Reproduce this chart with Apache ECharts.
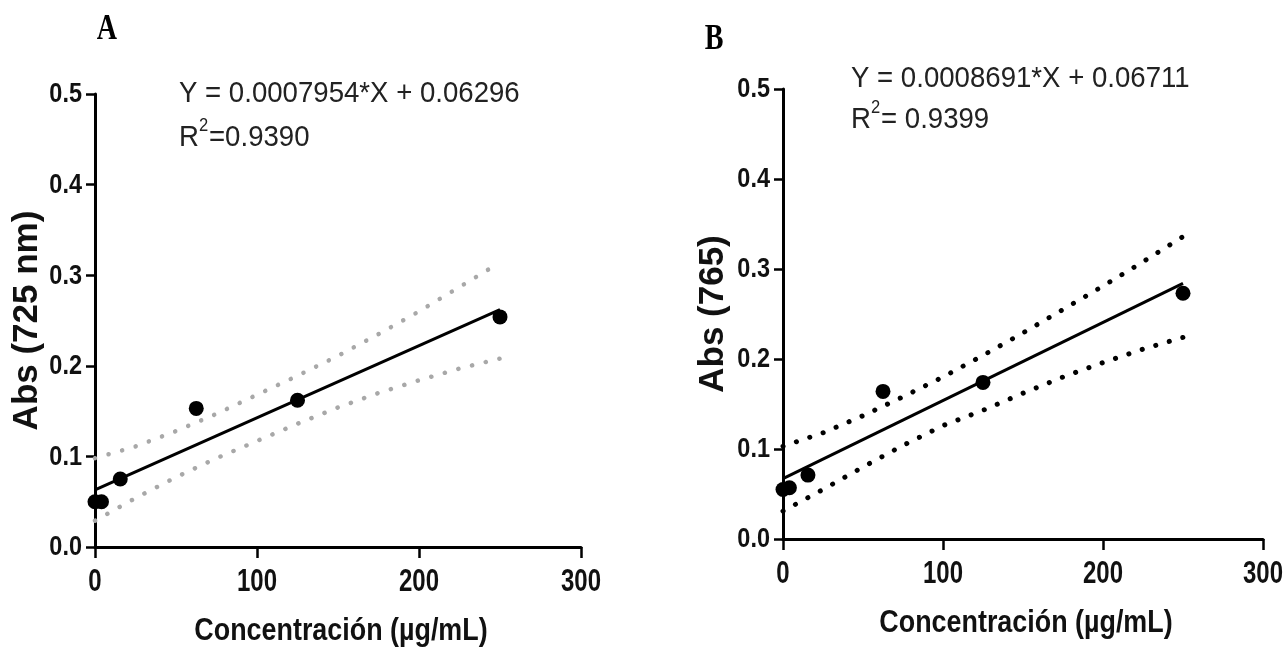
<!DOCTYPE html>
<html>
<head>
<meta charset="utf-8">
<script src="https://cdn.jsdelivr.net/npm/echarts@6/dist/echarts.min.js"></script>
<style>
html,body{margin:0;padding:0;background:#fff;}
#c{width:1288px;height:654px;}
</style>
</head>
<body>
<div id="c"></div>
<script>
// ---- Data ----
const xTicks = [0, 100, 200, 300];
const yTicks = [0.0, 0.1, 0.2, 0.3, 0.4, 0.5];

// Panel A
const concA = [0, 4, 15.6, 62.5, 125, 250];
const absA = [0.050, 0.050, 0.075, 0.153, 0.162, 0.254];
const fitXA = [0, 250];
const fitYA = [0.063, 0.262];
const bandXA = [0, 25, 50, 75, 100, 125, 150, 175, 200, 225, 250];
const upperA = [0.098, 0.111, 0.128, 0.147, 0.168, 0.189, 0.211, 0.235, 0.260, 0.287, 0.314];
const lowerA = [0.029, 0.054, 0.077, 0.098, 0.117, 0.136, 0.154, 0.170, 0.184, 0.197, 0.208];

// Panel B
const concB = [0, 4, 15.6, 62.5, 125, 250];
const absB = [0.055, 0.057, 0.071, 0.164, 0.174, 0.273];
const fitXB = [0, 250];
const fitYB = [0.067, 0.284];
const bandXB = [0, 25, 50, 75, 100, 125, 150, 175, 200, 225, 250];
const upperB = [0.103, 0.118, 0.137, 0.158, 0.180, 0.204, 0.229, 0.255, 0.281, 0.308, 0.336];
const lowerB = [0.031, 0.055, 0.080, 0.104, 0.126, 0.143, 0.162, 0.180, 0.196, 0.211, 0.224];

const panelLabels = ['A', 'B'];
const xNames = ['Concentración (µg/mL)', 'Concentración (µg/mL)'];
const yNames = ['Abs (725 nm)', 'Abs (765)'];
const eqLine1 = ['Y = 0.0007954*X + 0.06296', 'Y = 0.0008691*X + 0.06711'];
const eqR = ['R', 'R'];
const eqSup = ['2', '2'];
const eqLine2 = ['=0.9390', '= 0.9399'];

// ---- helpers ----
const zip = (xs, ys) => xs.map((x, i) => [x, ys[i]]);
const SANS = '"Liberation Sans", Arial, sans-serif';
const SERIF = '"Liberation Serif", "Times New Roman", serif';

const grids = [
  { left: 95, top: 94, width: 486, height: 453 },
  { left: 783, top: 89, width: 480, height: 450 }
];

function xAxisFor(i) {
  return {
    type: 'value', gridIndex: i, min: xTicks[0], max: xTicks[xTicks.length - 1], interval: 100,
    axisLine: { show: true, onZero: false, lineStyle: { color: '#000', width: 3 } },
    axisTick: { show: true, length: 11, lineStyle: { color: '#000', width: 2.5 } },
    axisLabel: { show: false },
    splitLine: { show: false }
  };
}
function yAxisFor(i, nameGap) {
  return {
    type: 'value', gridIndex: i, min: yTicks[0], max: yTicks[yTicks.length - 1], interval: 0.1,
    name: yNames[i], nameLocation: 'middle', nameGap: nameGap, nameRotate: 90,
    nameTextStyle: { fontFamily: SANS, fontWeight: 'bold', fontSize: 35, color: '#111' },
    axisLine: { show: true, onZero: false, lineStyle: { color: '#000', width: 3 } },
    axisTick: { show: true, length: 9, lineStyle: { color: '#000', width: 2.5 } },
    axisLabel: { show: false },
    splitLine: { show: false }
  };
}

function panelSeries(i, conc, abs, fx, fy, bx, up, lo, bandColor, dotW) {
  const dotted = { color: bandColor, width: dotW, type: [0.1, 14], cap: 'round' };
  return [
    { type: 'line', xAxisIndex: i, yAxisIndex: i, data: zip(bx, up), showSymbol: false, symbol: 'none',
      lineStyle: dotted, silent: true, z: 2 },
    { type: 'line', xAxisIndex: i, yAxisIndex: i, data: zip(bx, lo), showSymbol: false, symbol: 'none',
      lineStyle: dotted, silent: true, z: 2 },
    { type: 'line', xAxisIndex: i, yAxisIndex: i, data: zip(fx, fy), showSymbol: false, symbol: 'none',
      lineStyle: { color: '#000', width: 3 }, silent: true, z: 3 },
    { type: 'scatter', xAxisIndex: i, yAxisIndex: i, data: zip(conc, abs), symbol: 'circle', symbolSize: 15,
      itemStyle: { color: '#000', opacity: 1 }, z: 4 }
  ];
}

const chart = echarts.init(document.getElementById('c'), null, { renderer: 'canvas' });
chart.setOption({
  backgroundColor: '#ffffff',
  animation: false,
  grid: grids,
  xAxis: [xAxisFor(0), xAxisFor(1)],
  yAxis: [yAxisFor(0, 50), yAxisFor(1, 52)],
  series: [
    ...panelSeries(0, concA, absA, fitXA, fitYA, bandXA, upperA, lowerA, '#a8a8a8', 4.5),
    ...panelSeries(1, concB, absB, fitXB, fitYB, bandXB, upperB, lowerB, '#000000', 5)
  ]
});

// ---- texts (tick labels, axis titles, equations), placed through the axes' own scales ----
const eqAnchor = [[179, 79], [851, 64]];
const eqGap = [44, 41];
const eqScale = [0.92, 0.92];
const letterPos = [[107, 30], [714, 40]];
const g = [];
[0, 1].forEach(i => {
  const origin = chart.convertToPixel({ gridIndex: i }, [xTicks[0], yTicks[0]]);
  const corner = chart.convertToPixel({ gridIndex: i }, [xTicks[xTicks.length - 1], yTicks[yTicks.length - 1]]);
  yTicks.forEach(v => {
    const p = chart.convertToPixel({ gridIndex: i }, [xTicks[0], v]);
    g.push({ type: 'text', x: origin[0] - 13, y: p[1] + 1, scaleX: 0.87, silent: true,
      style: { text: v.toFixed(1), font: 'bold 27px ' + SANS, fill: '#111', textAlign: 'right', textVerticalAlign: 'middle' } });
  });
  xTicks.forEach(v => {
    const p = chart.convertToPixel({ gridIndex: i }, [v, yTicks[0]]);
    g.push({ type: 'text', x: p[0], y: origin[1] + 35, scaleX: 0.75, silent: true,
      style: { text: String(v), font: 'bold 32px ' + SANS, fill: '#111', textAlign: 'center', textVerticalAlign: 'middle' } });
  });
  g.push({ type: 'text', x: (origin[0] + corner[0]) / 2 + 3, y: origin[1] + 84, scaleX: 0.84, silent: true,
    style: { text: xNames[i], font: 'bold 32px ' + SANS, fill: '#111', textAlign: 'center', textVerticalAlign: 'middle' } });
  g.push({ type: 'text', x: letterPos[i][0], y: letterPos[i][1], scaleX: 0.78, silent: true,
    style: { text: panelLabels[i], font: 'bold 36px ' + SERIF, fill: '#000', textAlign: 'center', textVerticalAlign: 'middle' } });
  const ex = eqAnchor[i][0], ey = eqAnchor[i][1], s = eqScale[i], ey2 = ey + eqGap[i];
  g.push({ type: 'text', x: ex, y: ey, scaleX: s, silent: true,
    style: { text: eqLine1[i], font: '30px ' + SANS, fill: '#222', textAlign: 'left', textVerticalAlign: 'top' } });
  g.push({ type: 'text', x: ex, y: ey2, scaleX: s, silent: true,
    style: { text: eqR[i], font: '30px ' + SANS, fill: '#222', textAlign: 'left', textVerticalAlign: 'top' } });
  g.push({ type: 'text', x: ex + 20, y: ey2 + 3, scaleX: s, silent: true,
    style: { text: eqSup[i], font: '18px ' + SANS, fill: '#222', textAlign: 'left', textVerticalAlign: 'middle' } });
  g.push({ type: 'text', x: ex + 30, y: ey2, scaleX: s, silent: true,
    style: { text: eqLine2[i], font: '30px ' + SANS, fill: '#222', textAlign: 'left', textVerticalAlign: 'top' } });
});
chart.setOption({ graphic: g });
</script>
</body>
</html>
